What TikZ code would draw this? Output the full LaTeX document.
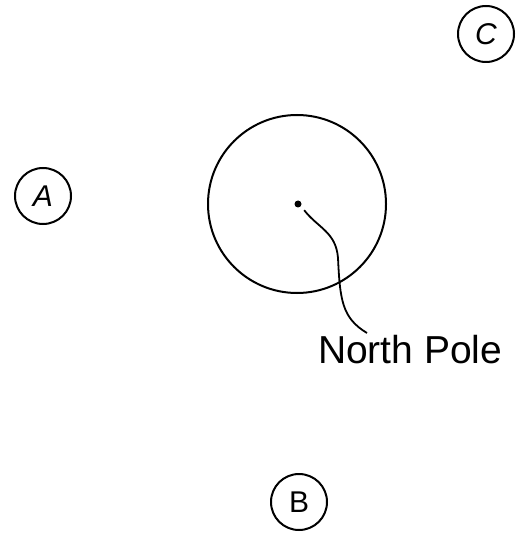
\documentclass[tikz,border=0pt]{standalone}
\usepackage{fontspec}
\setmainfont{Liberation Sans}
\usetikzlibrary{positioning}

\begin{document}
\begin{tikzpicture}[x=1pt, y=-1pt, line width=2pt,
    marker/.style={draw, circle, minimum size=56pt, inner sep=0pt,
        font=\fontsize{30}{33}\selectfont},
    globe/.style={draw, circle, minimum size=178pt, inner sep=0pt},
    pole/.style={fill, circle, minimum size=7pt, inner sep=0pt}]
    \useasboundingbox (0,0) rectangle (526,534);

    \node[marker] (A) at (43,196) {\itshape A};
    \node[marker] (B) at (299,502) {B};
    \node[marker] (C) at (486,34) {\itshape C};

    \node[globe] (earth) at (297,204) {};
    \node[pole] (np) at (298,204) {};

    \node[anchor=base west, inner sep=0pt, font=\fontsize{39}{46}\selectfont]
        (label) at (317,363) {North Pole};
    \coordinate (tip) at (367,333);

    \draw[line width=1.8pt] (np.south east) ++(3,3)
        .. controls (318,228) and (336,232) .. (338,258)
        .. controls (340,300) and (342,318) .. (tip);
\end{tikzpicture}
\end{document}
